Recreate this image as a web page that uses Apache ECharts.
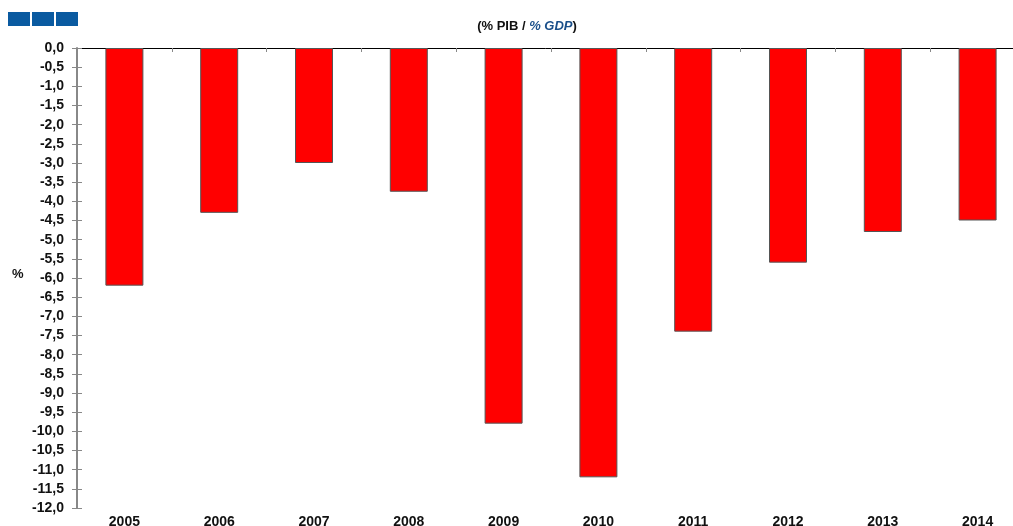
<!DOCTYPE html>
<html>
<head>
<meta charset="utf-8">
<script src="https://cdn.jsdelivr.net/npm/echarts@6/dist/echarts.min.js"></script>
<style>
  html, body { margin: 0; padding: 0; background: #fff; overflow: hidden; }
  #chart { width: 1013px; height: 526px; }
</style>
</head>
<body>
<div id="chart"></div>
<script>
// 年份 / 赤字 (% PIB)
var years = ['2005', '2006', '2007', '2008', '2009', '2010', '2011', '2012', '2013', '2014']
var deficit = [-6.2, -4.3, -3.0, -3.75, -9.8, -11.2, -7.4, -5.6, -4.8, -4.5]
var yMin = -12
var yMax = 0
var yStep = 0.5

var myChart = echarts.init(document.getElementById('chart'))

var fmt = function (v) {
  return v.toFixed(1).replace('.', ',')
}

var option = {
  animation: false,
  textStyle: { fontFamily: 'Liberation Sans, Arial, sans-serif' },
  title: {
    text: '{a|(% PIB / }{b|% GDP}{a|)}',
    left: 522,
    top: 15,
    textAlign: 'center',
    textStyle: {
      rich: {
        a: { fontSize: 13, fontWeight: 'bold', color: '#111' },
        b: { fontSize: 13, fontWeight: 'bold', fontStyle: 'italic', color: '#1a4f8a' }
      }
    }
  },
  graphic: [
    { type: 'rect', shape: { x: 8, y: 12, width: 22, height: 14 }, style: { fill: '#0a5aa0' } },
    { type: 'rect', shape: { x: 32, y: 12, width: 22, height: 14 }, style: { fill: '#0a5aa0' } },
    { type: 'rect', shape: { x: 56, y: 12, width: 22, height: 14 }, style: { fill: '#0a5aa0' } },
    {
      type: 'text', left: 12, top: 268,
      style: { text: '%', fontSize: 13, fontWeight: 'bold', fill: '#111', fontFamily: 'Liberation Sans, Arial, sans-serif' }
    }
  ],
  grid: {
    left: 77,
    top: 48,
    width: 948,
    bottom: 18,
    outerBoundsMode: 'none',
    containLabel: false
  },
  xAxis: [
    {
      type: 'category',
      position: 'bottom',
      data: years,
      axisLine: { show: false },
      axisTick: { show: false },
      axisLabel: {
        margin: 7,
        fontSize: 14,
        fontWeight: 'bold',
        color: '#111'
      }
    },
    {
      type: 'category',
      position: 'top',
      data: years,
      axisLine: { show: true, onZero: false, lineStyle: { color: '#000', width: 1 } },
      axisTick: { show: true, inside: true, length: 4, lineStyle: { color: '#888' } },
      axisLabel: { show: false }
    }
  ],
  yAxis: [
    {
      type: 'value',
      min: yMin,
      max: yMax,
      interval: yStep,
      axisLine: { show: true, lineStyle: { color: '#888', width: 2 } },
      axisTick: { show: true, length: 5, lineStyle: { color: '#888' } },
      splitLine: { show: false },
      axisLabel: {
        margin: 13,
        fontSize: 14,
        fontWeight: 'bold',
        color: '#111',
        formatter: fmt
      }
    },
    {
      type: 'value',
      position: 'left',
      min: yMin,
      max: yMax,
      interval: yStep,
      axisLine: { show: false },
      axisTick: { show: true, inside: true, length: 5, lineStyle: { color: '#888' } },
      splitLine: { show: false },
      axisLabel: { show: false }
    }
  ],
  series: [
    {
      name: 'PIB',
      type: 'bar',
      xAxisIndex: 0,
      yAxisIndex: 0,
      barWidth: 38,
      itemStyle: {
        color: '#ff0000',
        borderColor: '#555',
        borderWidth: 1
      },
      data: deficit
    }
  ]
}

myChart.setOption(option)
</script>
</body>
</html>
